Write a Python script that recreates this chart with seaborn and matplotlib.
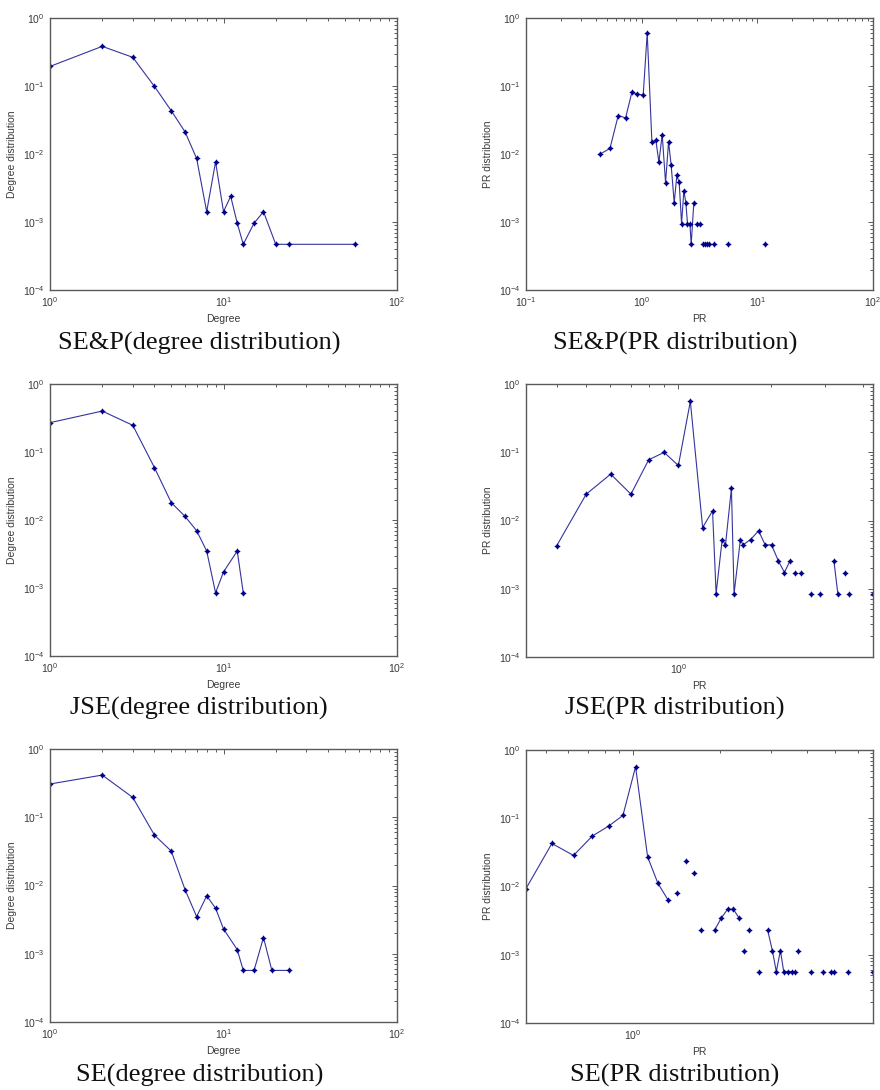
import numpy as np
import pandas as pd
import matplotlib
matplotlib.use("Agg")
import matplotlib.pyplot as plt
import matplotlib.ticker as mticker
import seaborn as sns

GAP = np.nan

# ---- SE&P degree distribution ----
sep_deg_x = [1, 2, 3, 4, 5, 6, 7, 8, 9, 10, 11, 12, 13, 15, 17, 20, 24, 57]
sep_deg_y = [0.194, 0.383, 0.264, 0.0986, 0.0432, 0.0212, 0.0086, 0.00142, 0.00767,
             0.00142, 0.00239, 0.00096, 0.00047, 0.00096, 0.00142, 0.00047, 0.00047, 0.00047]

# ---- SE&P PR distribution (GAP = empty bin, line broken) ----
sep_pr_x = [0.435, 0.532, 0.627, 0.726, 0.823, 0.915, 1.031, 1.117, 1.226, 1.327, 1.409,
            1.505, 1.609, 1.708, 1.800, 1.911, 2.015, 2.111, 2.212, 2.317, 2.41, 2.49, 2.61,
            2.68, 2.825, GAP, 2.98, GAP, 3.18, GAP, 3.40, 3.54, 3.685, 3.835, GAP, 4.18, GAP,
            5.56, GAP, 11.75]
sep_pr_y = [0.00995, 0.01205, 0.0368, 0.034, 0.081, 0.0756, 0.074, 0.602, 0.0149, 0.0158,
            0.00759, 0.0193, 0.00377, 0.0151, 0.00678, 0.00192, 0.00483, 0.00381, 0.00095,
            0.00288, 0.00192, 0.00095, 0.00095, 0.000469, 0.00192, GAP, 0.00095, GAP, 0.00095,
            GAP, 0.000469, 0.000469, 0.000469, 0.000469, GAP, 0.000469, GAP, 0.000469, GAP,
            0.000469]

# ---- JSE degree distribution ----
jse_deg_x = [1, 2, 3, 4, 5, 6, 7, 8, 9, 10, 12, 13]
jse_deg_y = [0.27, 0.40, 0.247, 0.0589, 0.018, 0.0113, 0.00697, 0.0035, 0.00085, 0.00172,
             0.0035, 0.00085]

# ---- JSE PR distribution ----
jse_pr_x = [0.401, 0.5, 0.601, 0.70, 0.80, 0.898, 1.0, 1.094, 1.20, 1.293, 1.328, 1.39, 1.425,
            1.49, 1.52, 1.594, 1.626, 1.72, 1.828, 1.92, 2.014, 2.118, 2.22, 2.316, GAP, 2.40,
            GAP, 2.52, GAP, 2.717, GAP, 2.905, GAP, 3.219, 3.316, GAP, 3.49, GAP, 3.61, GAP, 4.31]
jse_pr_y = [0.0043, 0.0243, 0.0478, 0.0243, 0.0776, 0.0995, 0.064, 0.557, 0.00789, 0.01386,
            0.00085, 0.00526, 0.0044, 0.0295, 0.00085, 0.00526, 0.0044, 0.00526, 0.00705, 0.0044,
            0.0044, 0.00259, 0.00173, 0.00259, GAP, 0.00173, GAP, 0.00173, GAP, 0.00085, GAP,
            0.00085, GAP, 0.00259, 0.00085, GAP, 0.00173, GAP, 0.00085, GAP, 0.00085]

# ---- SE degree distribution ----
se_deg_x = [1, 2, 3, 4, 5, 6, 7, 8, 9, 10, 12, 13, 15, 17, 19, 24]
se_deg_y = [0.307, 0.415, 0.195, 0.0547, 0.0319, 0.00873, 0.0035, 0.00705, 0.00465, 0.00231,
            0.00115, 0.00057, 0.00057, 0.00173, 0.00057, 0.00057]

# ---- SE PR distribution ----
se_pr_x = [0.4275, 0.526, 0.625, 0.725, 0.826, 0.926, 1.024, 1.127, 1.224, 1.328, GAP, 1.428,
           GAP, 1.53, GAP, 1.63, GAP, 1.728, GAP, 1.921, 2.027, 2.132, 2.23, 2.333, GAP, 2.434,
           GAP, 2.533, GAP, 2.736, GAP, 2.93, 3.043, 3.14, 3.244, 3.331, 3.437, 3.55, 3.646, GAP,
           3.73, GAP, 4.13, GAP, 4.54, GAP, 4.86, GAP, 4.96, GAP, 5.57, GAP, 6.77]
se_pr_y = [0.00924, 0.0427, 0.0285, 0.0547, 0.0767, 0.110, 0.569, 0.0272, 0.01107, 0.0063, GAP,
           0.00798, GAP, 0.0235, GAP, 0.0157, GAP, 0.00229, GAP, 0.00229, 0.00347, 0.00465,
           0.00465, 0.00347, GAP, 0.00115, GAP, 0.00229, GAP, 0.000566, GAP, 0.00229, 0.00115,
           0.000566, 0.00115, 0.000566, 0.000566, 0.000566, 0.000566, GAP, 0.00115, GAP,
           0.000566, GAP, 0.000566, GAP, 0.000566, GAP, 0.000566, GAP, 0.000566, GAP, 0.000566]

captions = ["SE&P(degree distribution)", "SE&P(PR distribution)",
            "JSE(degree distribution)", "JSE(PR distribution)",
            "SE(degree distribution)", "SE(PR distribution)"]
xlabels = ["Degree", "PR", "Degree", "PR", "Degree", "PR"]
ylabels = ["Degree distribution", "PR distribution"] * 3

sns.set_style("white")
plt.rcParams["font.family"] = ["Liberation Sans", "DejaVu Sans"]
plt.rcParams["mathtext.default"] = "regular"

W, H = 880, 1090
fig = plt.figure(figsize=(W / 100, H / 100), dpi=100)

# axes boxes in pixels: left, top, right, bottom
boxes = [(50, 18, 397, 290), (526, 18, 873, 290),
         (50, 384, 397, 656), (526, 384, 873, 657),
         (50, 749, 397, 1022), (526, 750, 873, 1023)]
xlims = [(1, 100), (0.1, 100), (1, 100), (0.318, 4.32), (1, 100), (0.428, 6.78)]
cap_pos = [(199, 343), (675, 343), (199, 708), (675, 708), (200, 1075), (675, 1075)]

series = [(sep_deg_x, sep_deg_y), (sep_pr_x, sep_pr_y),
          (jse_deg_x, jse_deg_y), (jse_pr_x, jse_pr_y),
          (se_deg_x, se_deg_y), (se_pr_x, se_pr_y)]

TXT = "#3a3a3a"
SPINE = "#5a5a5a"
LINE = "#34349e"
MARK = "#00008b"

for i, ((xs, ys), (l, t, r, b)) in enumerate(zip(series, boxes)):
    ax = fig.add_axes([l / W, 1 - b / H, (r - l) / W, (b - t) / H])
    ax.set_xscale("log")
    ax.set_yscale("log")
    df = pd.DataFrame({"x": xs, "y": ys})
    df["seg"] = df["y"].isna().cumsum()
    df = df.dropna()
    sns.lineplot(data=df, x="x", y="y", units="seg", estimator=None, sort=False, ax=ax,
                 color=LINE, linewidth=0.8, marker=(4, 1, 0), markersize=3.8,
                 markerfacecolor=MARK, markeredgecolor=MARK, markeredgewidth=0.6,
                 legend=False)
    ax.set_xlim(*xlims[i])
    ax.set_ylim(1e-4, 1)
    ax.xaxis.set_minor_formatter(mticker.NullFormatter())
    ax.yaxis.set_minor_locator(mticker.LogLocator(base=10, subs=np.arange(2, 10), numticks=20))
    ax.xaxis.set_minor_locator(mticker.LogLocator(base=10, subs=np.arange(2, 10), numticks=20))
    ax.yaxis.set_minor_formatter(mticker.NullFormatter())
    ax.tick_params(which="both", direction="in", top=True, right=True,
                   colors=SPINE, labelcolor=TXT, labelsize=7.5, width=0.7)
    ax.tick_params(which="major", length=3.5, pad=4)
    ax.tick_params(which="minor", length=2)
    for s in ax.spines.values():
        s.set_color(SPINE)
        s.set_linewidth(1.0)
    ax.set_xlabel(xlabels[i], fontsize=7.5, color=TXT, labelpad=3)
    ax.set_ylabel(ylabels[i], fontsize=7.5, color=TXT, labelpad=4)
    cx, cy = cap_pos[i]
    fig.text(cx / W, 1 - cy / H, captions[i], ha="center", va="center",
             fontsize=19, family=["Liberation Serif", "DejaVu Serif"], color="#111111")

fig.savefig("out.png", dpi=100, facecolor="white")
